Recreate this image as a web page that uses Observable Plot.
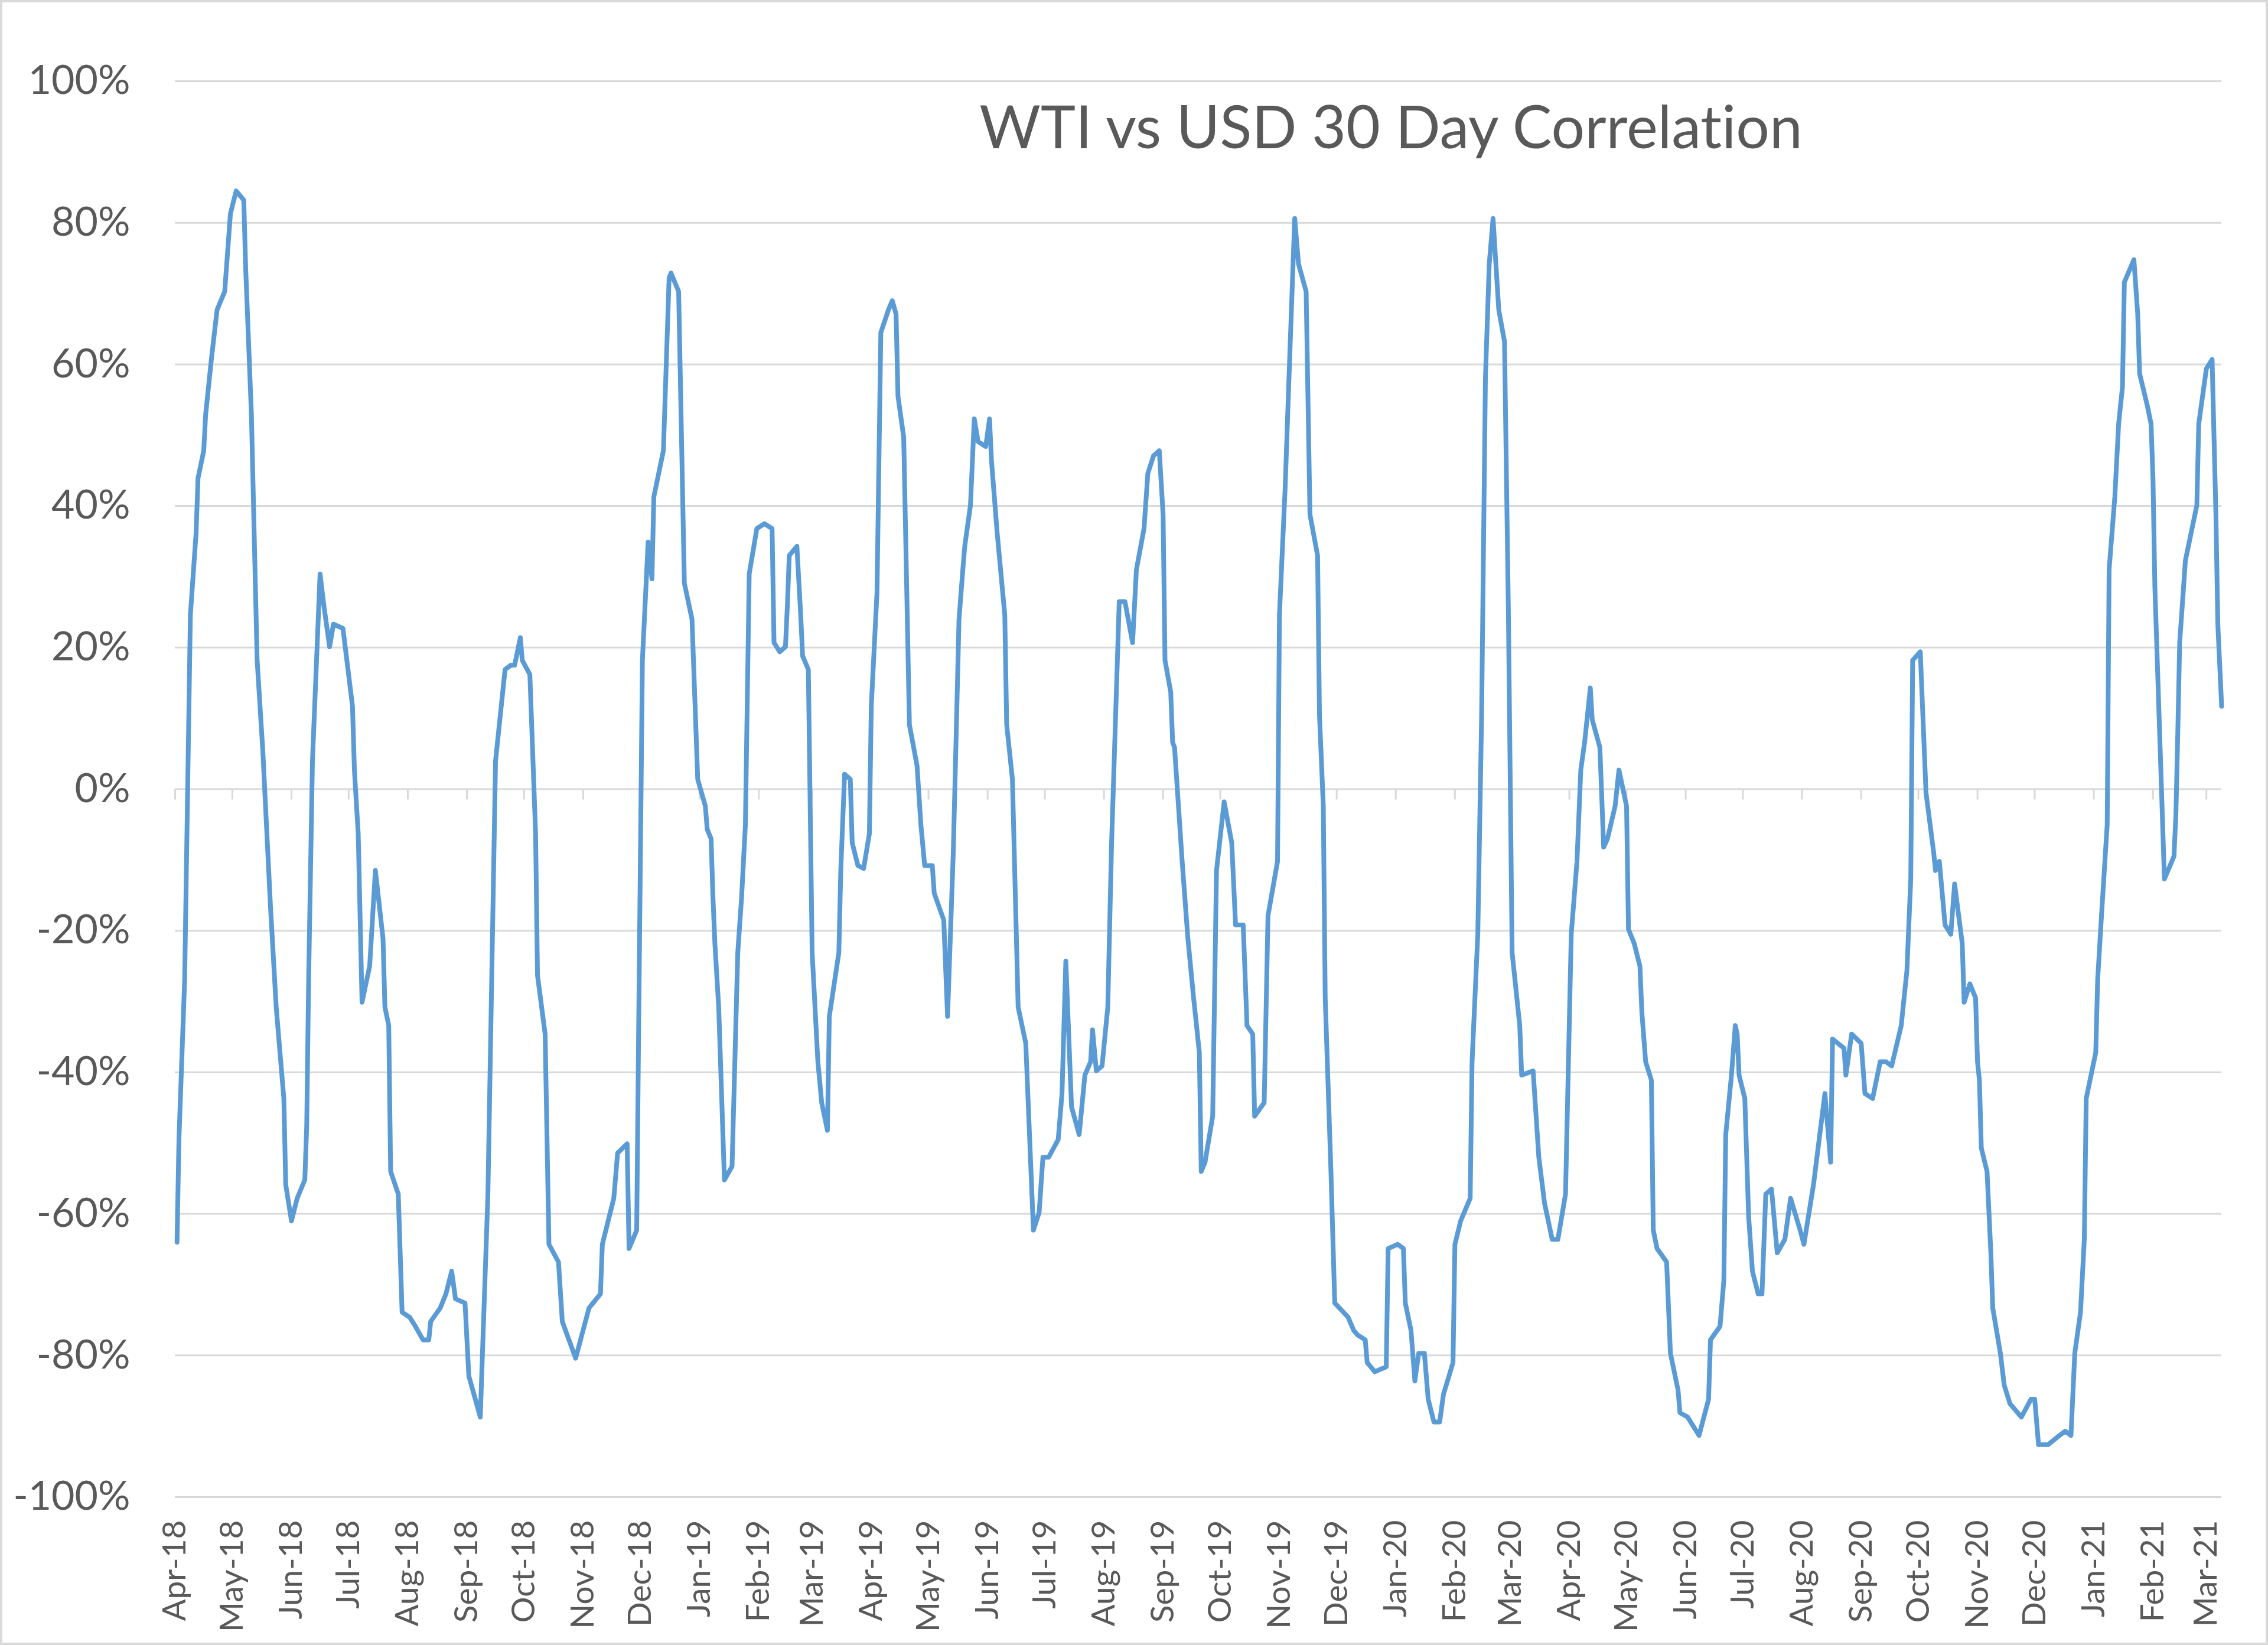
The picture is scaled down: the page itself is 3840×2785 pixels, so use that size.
<!DOCTYPE html>
<html>
<head>
<meta charset="utf-8">
<script src="https://cdn.jsdelivr.net/npm/d3@7"></script>
<script src="https://cdn.jsdelivr.net/npm/@observablehq/plot@0.6"></script>
<style>
html, body { margin: 0; padding: 0; background: #fff; }
#wrap { position: relative; width: 3840px; height: 2785px; overflow: hidden; background: #fff; }
#wrap svg { position: absolute; left: 0; top: 0; font-variant-ligatures: none; }
#border { position: absolute; left: 0; top: 0; width: 3840px; height: 2785px; box-sizing: border-box; border: 4px solid #D9D9D9; pointer-events: none; }
</style>
</head>
<body>
<div id="wrap"><div id="border"></div></div>
<script>
const title = "WTI vs USD 30 Day Correlation";

const yTicks = [-100, -80, -60, -40, -20, 0, 20, 40, 60, 80, 100];
const monthTicks = d3.utcMonth.range(new Date("2018-04-01"), new Date("2021-03-02"));
const xDomain = [new Date("2018-04-01"), new Date("2021-03-09")];

const series2018 = [
  ["2018-04-02",-64.0],["2018-04-03",-49.5],["2018-04-06",-26.9],["2018-04-09",24.6],["2018-04-12",36.2],
  ["2018-04-13",43.9],["2018-04-16",47.8],["2018-04-17",52.9],["2018-04-20",60.7],["2018-04-23",67.7],
  ["2018-04-27",70.3],["2018-04-30",81.3],["2018-05-03",84.5],["2018-05-07",83.2],["2018-05-08",73.5],
  ["2018-05-11",52.9],["2018-05-14",18.2],["2018-05-17",5.3],["2018-05-21",-16.6],["2018-05-24",-30.8],
  ["2018-05-28",-43.7],["2018-05-29",-55.9],["2018-06-01",-61.0],["2018-06-04",-57.8],["2018-06-08",-55.2],
  ["2018-06-09",-47.5],["2018-06-10",-26.9],["2018-06-12",4.0],["2018-06-16",30.4],["2018-06-18",25.9],
  ["2018-06-21",20.1],["2018-06-23",23.3],["2018-06-28",22.7],["2018-07-03",11.7],["2018-07-04",2.7],
  ["2018-07-06",-6.3],["2018-07-08",-30.1],["2018-07-12",-25.0],["2018-07-15",-11.5],["2018-07-19",-21.1],
  ["2018-07-20",-30.8],["2018-07-22",-33.4],["2018-07-23",-54.0],["2018-07-27",-57.2],["2018-07-29",-73.9],
  ["2018-08-02",-74.6],["2018-08-05",-75.9],["2018-08-09",-77.8],["2018-08-12",-77.8],["2018-08-13",-75.2],
  ["2018-08-18",-73.3],["2018-08-21",-71.3],["2018-08-24",-68.1],["2018-08-26",-72.0],["2018-08-31",-72.6],
  ["2018-09-02",-82.9],["2018-09-08",-88.7],["2018-09-12",-57.2],["2018-09-16",4.0],["2018-09-21",16.9],
  ["2018-09-24",17.5],["2018-09-26",17.5],["2018-09-29",21.4],["2018-09-30",18.2],["2018-10-04",16.2],
  ["2018-10-07",-6.3],["2018-10-08",-26.3],["2018-10-12",-34.6],["2018-10-14",-64.3],["2018-10-19",-66.8],
  ["2018-10-21",-75.2],["2018-10-28",-80.4],["2018-11-04",-73.3],["2018-11-10",-71.3],["2018-11-11",-64.3],
  ["2018-11-17",-57.8],["2018-11-19",-51.4],["2018-11-24",-50.1],["2018-11-25",-64.9],["2018-11-29",-62.3],
  ["2018-11-30",-34.6],["2018-12-02",18.2],["2018-12-05",34.9],["2018-12-07",29.7],["2018-12-08",41.3],
  ["2018-12-13",47.8],["2018-12-16",72.2],["2018-12-17",72.9],["2018-12-21",70.3],["2018-12-24",29.1],
  ["2018-12-28",24.0],["2018-12-31",1.4]
];

const series2019 = [
  ["2019-01-04",-2.4],["2019-01-05",-5.7],["2019-01-07",-7.0],["2019-01-08",-15.3],["2019-01-09",-21.8],
  ["2019-01-11",-30.8],["2019-01-14",-55.2],["2019-01-18",-53.3],["2019-01-21",-23.1],["2019-01-23",-15.3],
  ["2019-01-25",-5.0],["2019-01-27",30.4],["2019-01-31",36.8],["2019-02-04",37.5],["2019-02-08",36.8],
  ["2019-02-09",20.7],["2019-02-12",19.4],["2019-02-15",20.1],["2019-02-16",25.9],["2019-02-17",33.0],
  ["2019-02-21",34.3],["2019-02-23",24.6],["2019-02-24",18.8],["2019-02-27",16.9],["2019-03-01",-23.1],
  ["2019-03-04",-38.5],["2019-03-06",-44.3],["2019-03-09",-48.2],["2019-03-10",-32.1],["2019-03-15",-23.1],
  ["2019-03-16",-11.5],["2019-03-18",2.1],["2019-03-21",1.4],["2019-03-22",-7.6],["2019-03-25",-10.8],
  ["2019-03-28",-11.2],["2019-03-31",-6.3],["2019-04-01",11.7],["2019-04-04",27.8],["2019-04-06",64.5],
  ["2019-04-10",67.7],["2019-04-12",69.0],["2019-04-14",67.1],["2019-04-15",55.5],["2019-04-18",49.7],
  ["2019-04-21",9.1],["2019-04-25",3.3],["2019-04-27",-5.0],["2019-04-29",-10.8],["2019-05-03",-10.8],
  ["2019-05-04",-14.7],["2019-05-09",-18.5],["2019-05-11",-32.1],["2019-05-14",-8.9],["2019-05-17",24.0],
  ["2019-05-19",31.0],["2019-05-20",34.3],["2019-05-23",40.1],["2019-05-25",52.3],["2019-05-27",49.1],
  ["2019-05-31",48.4],["2019-06-02",52.3],["2019-06-03",46.5],["2019-06-06",36.2],["2019-06-10",24.6],
  ["2019-06-11",9.1],["2019-06-14",1.4],["2019-06-17",-30.8],["2019-06-21",-35.9],["2019-06-25",-62.3],
  ["2019-06-28",-59.8],["2019-06-30",-52.0],["2019-07-03",-52.0],["2019-07-08",-49.5],["2019-07-10",-43.0],
  ["2019-07-12",-24.3],["2019-07-15",-44.9],["2019-07-19",-48.8],["2019-07-22",-40.4],["2019-07-25",-38.5],
  ["2019-07-26",-34.0],["2019-07-28",-39.8],["2019-07-31",-39.1],["2019-08-03",-30.8],["2019-08-05",-7.6],
  ["2019-08-09",26.5],["2019-08-12",26.5],["2019-08-16",20.7],["2019-08-18",31.0],["2019-08-22",36.8],
  ["2019-08-24",44.6],["2019-08-27",47.1],["2019-08-30",47.8],["2019-09-01",38.8],["2019-09-02",18.2],
  ["2019-09-05",13.7],["2019-09-06",6.6],["2019-09-07",5.9],["2019-09-11",-10.2],["2019-09-14",-21.1],
  ["2019-09-17",-29.5],["2019-09-20",-37.2],["2019-09-21",-54.0],["2019-09-23",-52.7],["2019-09-27",-46.2],
  ["2019-09-29",-11.5],["2019-10-03",-1.8],["2019-10-07",-7.6],["2019-10-09",-19.2],["2019-10-13",-19.2],
  ["2019-10-15",-33.4],["2019-10-18",-34.6],["2019-10-19",-46.2],["2019-10-24",-44.3],["2019-10-26",-17.9],
  ["2019-10-31",-10.2],["2019-11-01",24.6],["2019-11-04",42.6],["2019-11-06",58.1],["2019-11-09",80.6],
  ["2019-11-11",74.2],["2019-11-15",70.3],["2019-11-17",38.8],["2019-11-21",33.0],["2019-11-22",10.4],
  ["2019-11-24",-2.4],["2019-11-25",-29.5],["2019-11-28",-54.0],["2019-11-30",-72.6],["2019-12-07",-74.6],
  ["2019-12-10",-76.5],["2019-12-12",-77.1],["2019-12-16",-77.8],["2019-12-17",-81.0],["2019-12-21",-82.3],
  ["2019-12-27",-81.6],["2019-12-28",-64.9]
];

const series2020 = [
  ["2020-01-02",-64.3],["2020-01-05",-64.9],["2020-01-06",-72.6],["2020-01-09",-76.5],["2020-01-11",-83.6],
  ["2020-01-13",-79.7],["2020-01-16",-79.7],["2020-01-18",-86.2],["2020-01-21",-89.4],["2020-01-24",-89.4],
  ["2020-01-26",-85.5],["2020-01-31",-81.0],["2020-02-01",-64.3],["2020-02-04",-61.0],["2020-02-09",-57.8],
  ["2020-02-10",-38.5],["2020-02-13",-20.5],["2020-02-15",10.4],["2020-02-17",58.1],["2020-02-19",74.2],
  ["2020-02-21",80.6],["2020-02-24",67.7],["2020-02-27",63.2],["2020-02-29",25.9],["2020-03-02",-23.1],
  ["2020-03-06",-33.4],["2020-03-07",-40.4],["2020-03-13",-39.8],["2020-03-16",-52.0],["2020-03-19",-58.5],
  ["2020-03-23",-63.6],["2020-03-26",-63.6],["2020-03-30",-57.2],["2020-04-02",-20.5],["2020-04-05",-10.2],
  ["2020-04-07",2.7],["2020-04-09",6.6],["2020-04-12",14.3],["2020-04-13",9.8],["2020-04-17",5.9],
  ["2020-04-19",-8.2],["2020-04-21",-7.0],["2020-04-25",-2.4],["2020-04-27",2.7],["2020-05-01",-2.4],
  ["2020-05-02",-19.8],["2020-05-05",-21.8],["2020-05-08",-25.0],["2020-05-09",-31.4],["2020-05-11",-38.5],
  ["2020-05-14",-41.1],["2020-05-15",-62.3],["2020-05-17",-64.9],["2020-05-22",-66.8],["2020-05-24",-79.7],
  ["2020-05-28",-84.9],["2020-05-29",-88.1],["2020-06-02",-88.7],["2020-06-08",-91.3],["2020-06-13",-86.2],
  ["2020-06-14",-77.8],["2020-06-19",-75.9],["2020-06-21",-69.4],["2020-06-22",-48.8],["2020-06-25",-40.4],
  ["2020-06-27",-33.4],["2020-06-28",-34.6],["2020-06-29",-40.4],["2020-07-02",-43.7],["2020-07-04",-60.4],
  ["2020-07-06",-68.1],["2020-07-09",-71.3],["2020-07-11",-71.3],["2020-07-13",-57.2],["2020-07-16",-56.5],
  ["2020-07-19",-65.5],["2020-07-23",-63.6],["2020-07-26",-57.8],["2020-07-31",-62.3],["2020-08-02",-64.3],
  ["2020-08-07",-55.9],["2020-08-13",-43.0],["2020-08-16",-52.7],["2020-08-17",-35.3],["2020-08-23",-36.6],
  ["2020-08-24",-40.4],["2020-08-27",-34.6],["2020-09-01",-35.9],["2020-09-03",-43.0],["2020-09-07",-43.7],
  ["2020-09-11",-38.5],["2020-09-14",-38.5],["2020-09-17",-39.1],["2020-09-22",-33.4],["2020-09-25",-25.6],
  ["2020-09-27",-12.7],["2020-09-28",18.2],["2020-10-02",19.4],["2020-10-05",-0.5],["2020-10-09",-8.9],
  ["2020-10-10",-11.5],["2020-10-12",-10.2],["2020-10-15",-19.2],["2020-10-18",-20.5],["2020-10-20",-13.4],
  ["2020-10-24",-21.8],["2020-10-25",-30.1],["2020-10-28",-27.5],["2020-10-31",-29.5],["2020-11-01",-38.5],
  ["2020-11-02",-41.1],["2020-11-03",-50.7],["2020-11-06",-54.0],["2020-11-08",-65.5],["2020-11-09",-73.3],
  ["2020-11-13",-79.7],["2020-11-15",-84.2],["2020-11-18",-86.8],["2020-11-24",-88.7],["2020-11-29",-86.2],
  ["2020-12-01",-86.2],["2020-12-03",-92.6],["2020-12-08",-92.6],["2020-12-14",-91.3],["2020-12-17",-90.7],
  ["2020-12-20",-91.3],["2020-12-22",-79.7],["2020-12-25",-73.9],["2020-12-27",-63.6],["2020-12-28",-43.7]
];

const series2021 = [
  ["2021-01-02",-37.2],["2021-01-03",-26.9],["2021-01-05",-17.9],["2021-01-08",-5.0],["2021-01-09",31.0],
  ["2021-01-12",41.3],["2021-01-14",51.6],["2021-01-16",56.8],["2021-01-17",71.6],["2021-01-22",74.8],
  ["2021-01-24",67.1],["2021-01-25",58.7],["2021-01-29",54.2],["2021-01-31",51.6],["2021-02-01",43.9],
  ["2021-02-02",28.5],["2021-02-07",-12.7],["2021-02-12",-9.5],["2021-02-13",-3.7],["2021-02-14",7.9],
  ["2021-02-15",20.7],["2021-02-18",32.3],["2021-02-24",40.1],["2021-02-25",51.6],["2021-03-01",59.4],
  ["2021-03-04",60.7],["2021-03-06",38.8],["2021-03-07",23.3],["2021-03-09",11.7]
];

const data = [...series2018, ...series2019, ...series2020, ...series2021]
  .map(([d, v]) => ({date: new Date(d), value: v}));

const textColor = "#595959";
const gridColor = "#D9D9D9";
const fontFamily = "Lato, 'Open Sans', 'Noto Sans', sans-serif";

const chart = Plot.plot({
  width: 3840,
  height: 2785,
  marginLeft: 296,
  marginRight: 79,
  marginTop: 137,
  marginBottom: 251,
  style: {fontFamily, color: textColor, background: "none", overflow: "visible"},
  x: {type: "utc", domain: xDomain, label: null},
  y: {domain: [-100, 100], label: null},
  marks: [
    Plot.gridY(yTicks, {stroke: gridColor, strokeOpacity: 1, strokeWidth: 3}),
    Plot.ruleX(monthTicks, {x: d => d, y1: 0, y2: 0, insetBottom: -18, stroke: gridColor, strokeWidth: 3}),
    Plot.axisY(yTicks, {tickSize: 0, tickPadding: 76, tickFormat: d => d + "%", fontSize: 68, fill: textColor, label: null}),
    Plot.axisX(monthTicks, {tickSize: 0, tickPadding: 39, tickRotate: -90, tickFormat: d3.utcFormat("%b-%y"), fontSize: 55, fill: textColor, label: null}),
    Plot.line(data, {x: "date", y: "value", stroke: "#5B9BD5", strokeWidth: 8, strokeLinejoin: "round", strokeLinecap: "round"}),
    Plot.text([title], {frameAnchor: "top", dx: 326, dy: 113, lineAnchor: "bottom", fontSize: 100, fill: textColor})
  ]
});
document.getElementById("wrap").prepend(chart);
</script>
</body>
</html>
